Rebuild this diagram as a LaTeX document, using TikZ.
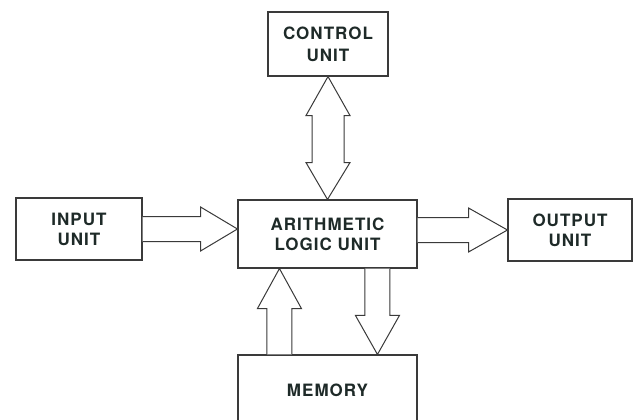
\documentclass[tikz,border=0pt]{standalone}
\usepackage{fontspec}
\setmainfont{TeX Gyre Heros}
\usetikzlibrary{calc}
\definecolor{ink}{HTML}{1E2A28}
\definecolor{edge}{HTML}{3A3A3A}
\tikzset{
  unitbox/.style={draw=edge, line width=1.1pt, fill=white, align=center, inner sep=0pt,
    text=ink, font=\fontsize{17}{20}\selectfont\bfseries\addfontfeature{LetterSpace=6}},
  fatarrow/.style={draw=edge, line width=1pt, fill=white, line join=miter}
}
\begin{document}
\begin{tikzpicture}[x=1pt,y=-1pt]
\clip (0,0) rectangle (633,420);
\fill[white] (0,0) rectangle (633,420);
\node[unitbox, minimum width=120pt, minimum height=64pt] (ctl) at (328,44) {CONTROL\\[2pt]UNIT};
\node[unitbox, minimum width=126pt, minimum height=62pt] (inp) at (79,229) {INPUT\\UNIT};
\node[unitbox, minimum width=179pt, minimum height=68pt] (alu) at (327.5,234) {ARITHMETIC\\LOGIC UNIT};
\node[unitbox, minimum width=124pt, minimum height=62pt] (out) at (570,230) {OUTPUT\\UNIT};
\node[unitbox, minimum width=179pt, minimum height=70pt] (mem) at (327.5,390) {MEMORY};
% control <-> alu
\draw[fatarrow] (ctl.south) -- ($(ctl.south)+(22,39)$) -- ($(ctl.south)+(16,39)$) -- ($(ctl.south)+(16,86)$) -- ($(ctl.south)+(22,86)$) -- (alu.north)
  -- ($(ctl.south)+(-22,86)$) -- ($(ctl.south)+(-16,86)$) -- ($(ctl.south)+(-16,39)$) -- ($(ctl.south)+(-22,39)$) -- cycle;
% input -> alu
\coordinate (itip) at (inp.east -| alu.west);
\draw[fatarrow] ($(inp.east)+(0,-12.5)$) -- ($(inp.east)+(58,-12.5)$) -- ($(inp.east)+(58,-22)$) -- (itip)
  -- ($(inp.east)+(58,22)$) -- ($(inp.east)+(58,12.5)$) -- ($(inp.east)+(0,12.5)$);
% alu -> output
\coordinate (ostart) at (alu.east |- out.west);
\draw[fatarrow] ($(ostart)+(0,-12.5)$) -- ($(ostart)+(51,-12.5)$) -- ($(ostart)+(51,-22)$) -- (out.west)
  -- ($(ostart)+(51,22)$) -- ($(ostart)+(51,12.5)$) -- ($(ostart)+(0,12.5)$);
% memory -> alu (up)
\coordinate (utip) at ($(alu.south west)+(42,0)$);
\coordinate (ubase) at (utip |- mem.north);
\draw[fatarrow] ($(ubase)+(-12.5,0)$) -- ($(utip)+(-12.5,40)$) -- ($(utip)+(-22,40)$) -- (utip)
  -- ($(utip)+(22,40)$) -- ($(utip)+(12.5,40)$) -- ($(ubase)+(12.5,0)$);
% alu -> memory (down)
\coordinate (dtip) at ($(mem.north west)+(140,0)$);
\coordinate (dbase) at (dtip |- alu.south);
\draw[fatarrow] ($(dbase)+(-12.5,0)$) -- ($(dtip)+(-12.5,-39)$) -- ($(dtip)+(-22,-39)$) -- (dtip)
  -- ($(dtip)+(22,-39)$) -- ($(dtip)+(12.5,-39)$) -- ($(dbase)+(12.5,0)$);
\end{tikzpicture}
\end{document}
